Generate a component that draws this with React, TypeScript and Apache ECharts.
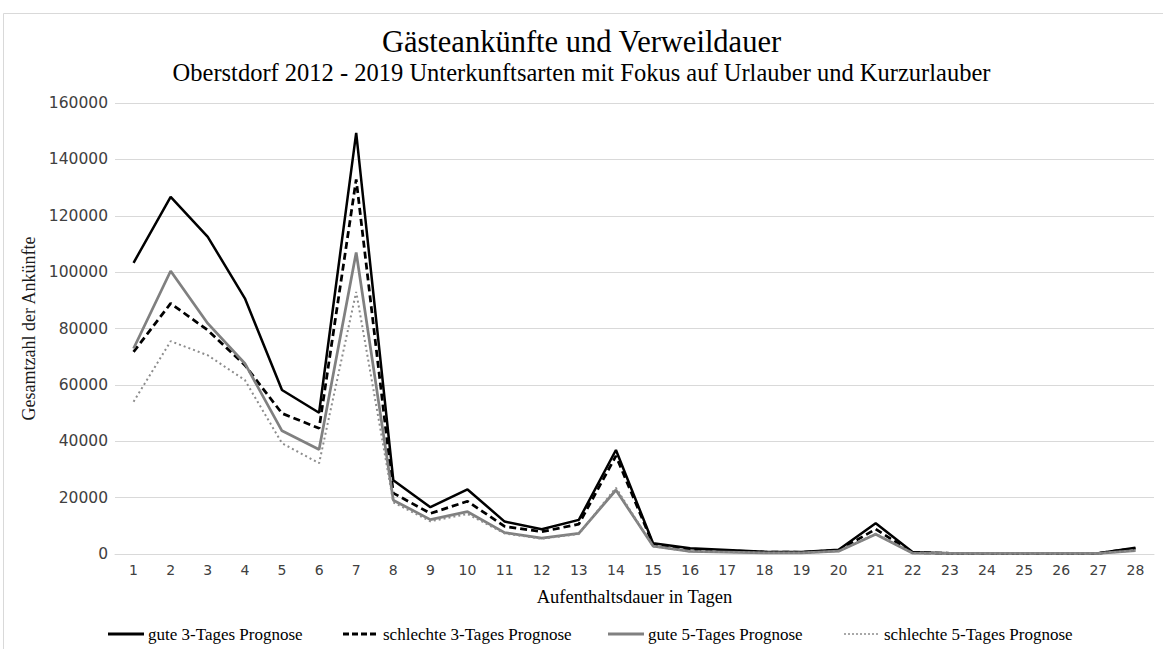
import React, { useEffect, useRef } from "react";
import * as echarts from "echarts";

const days = Array.from({ length: 28 }, (_, i) => String(i + 1));
const yTicks = [0, 20000, 40000, 60000, 80000, 100000, 120000, 140000, 160000];

const gute3 = [103300, 126700, 112500, 90700, 58200, 50100, 149400, 26200, 16600, 22900, 11500, 8800, 12100, 36900, 3800, 2000, 1400, 800, 700, 1500, 10900, 600, 300, 300, 300, 300, 300, 2200];
const schlecht3 = [71700, 88900, 79400, 67000, 49900, 44600, 132900, 21600, 14400, 18700, 9800, 7900, 10600, 34800, 3400, 1600, 1200, 700, 600, 1300, 8800, 500, 250, 250, 250, 250, 250, 2000];
const gute5 = [72900, 100400, 81800, 67600, 43700, 37100, 107000, 19100, 12200, 15000, 7600, 5600, 7300, 22700, 2800, 900, 700, 400, 400, 1000, 7000, 300, 200, 200, 200, 200, 200, 1200];
const schlecht5 = [54000, 75500, 70500, 61700, 39300, 32200, 93000, 18300, 11600, 14200, 7300, 5400, 7100, 23500, 2700, 900, 700, 400, 400, 1000, 7200, 300, 200, 200, 200, 200, 200, 1200];

const seriesNames = [
  "gute 3-Tages Prognose",
  "schlechte 3-Tages Prognose",
  "gute 5-Tages Prognose",
  "schlechte 5-Tages Prognose",
];

const SERIF = "'Liberation Serif', 'DejaVu Serif', serif";
const SANS = "'DejaVu Sans', sans-serif";

export default function App() {
  const ref = useRef<HTMLDivElement>(null);
  useEffect(() => {
    document.body.style.margin = "0";
    const chart = echarts.init(ref.current!, null, { renderer: "svg" });
    const styles = [
      { color: "#000000", type: "solid", width: 2.5 },
      { color: "#000000", type: [7, 4], width: 2.75 },
      { color: "#808080", type: "solid", width: 2.75 },
      { color: "#8c8c8c", type: [2, 3], width: 2 },
    ];
    const datas = [gute3, schlecht3, gute5, schlecht5];
    const legendX = [108, 343, 608, 844];
    const legendGraphics: any[] = [];
    seriesNames.forEach((name, i) => {
      const s = styles[i];
      legendGraphics.push({
        type: "line",
        shape: { x1: legendX[i], y1: 634, x2: legendX[i] + 36, y2: 634 },
        style: {
          stroke: s.color,
          lineWidth: i === 3 ? 1.5 : 3,
          lineDash: i === 1 ? [6, 3] : i === 3 ? [2, 2] : null,
        },
        silent: true,
      });
      legendGraphics.push({
        type: "text",
        x: legendX[i] + 40,
        y: 634,
        style: {
          text: name,
          fontFamily: SERIF,
          fontSize: 17,
          fill: "#000",
          verticalAlign: "middle",
          align: "left",
        },
        silent: true,
      });
    });
    chart.setOption({
      animation: false,
      backgroundColor: "#fff",
      graphic: [
        {
          type: "rect",
          shape: { x: 3.5, y: 13.5, width: 1170, height: 660 },
          style: { fill: "none", stroke: "#d9d9d9", lineWidth: 1 },
          silent: true,
          z: -10,
        },
        ...legendGraphics,
      ],
      title: [
        {
          text: "Gästeankünfte und Verweildauer",
          left: "center",
          top: 21,
          textStyle: { fontFamily: SERIF, fontSize: 30.5, fontWeight: "normal", color: "#000" },
        },
        {
          text: "Oberstdorf 2012 - 2019 Unterkunftsarten mit Fokus auf Urlauber und Kurzurlauber",
          left: "center",
          top: 55,
          textStyle: { fontFamily: SERIF, fontSize: 24.5, fontWeight: "normal", color: "#000" },
        },
      ],
      grid: { left: 115, right: 9, top: 103, bottom: 95, containLabel: false },
      xAxis: {
        type: "category",
        data: days,
        boundaryGap: true,
        name: "Aufenthaltsdauer in Tagen",
        nameLocation: "middle",
        nameGap: 33,
        nameTextStyle: { fontFamily: SERIF, fontSize: 18.5, color: "#000" },
        axisLine: { lineStyle: { color: "#d9d9d9", width: 1 } },
        axisTick: { show: false },
        axisLabel: { fontFamily: SANS, fontSize: 14, color: "#404040", margin: 9 },
      },
      yAxis: {
        type: "value",
        min: yTicks[0],
        max: yTicks[yTicks.length - 1],
        interval: 20000,
        name: "Gesamtzahl der Ankünfte",
        nameLocation: "middle",
        nameGap: 70,
        nameTextStyle: { fontFamily: SERIF, fontSize: 18, color: "#1a1a1a" },
        axisLine: { show: false },
        axisTick: { show: false },
        axisLabel: {
          fontFamily: SANS,
          fontSize: 15.5,
          color: "#404040",
          margin: 7,
          formatter: (v: number) => String(v),
        },
        splitLine: { lineStyle: { color: "#d9d9d9", width: 1 } },
      },
      series: seriesNames.map((name, i) => ({
        name,
        type: "line",
        data: datas[i],
        symbol: "none",
        lineStyle: styles[i],
        itemStyle: { color: styles[i].color },
      })),
    });
    return () => chart.dispose();
  }, []);
  return <div ref={ref} style={{ width: 1163, height: 649 }} />;
}
